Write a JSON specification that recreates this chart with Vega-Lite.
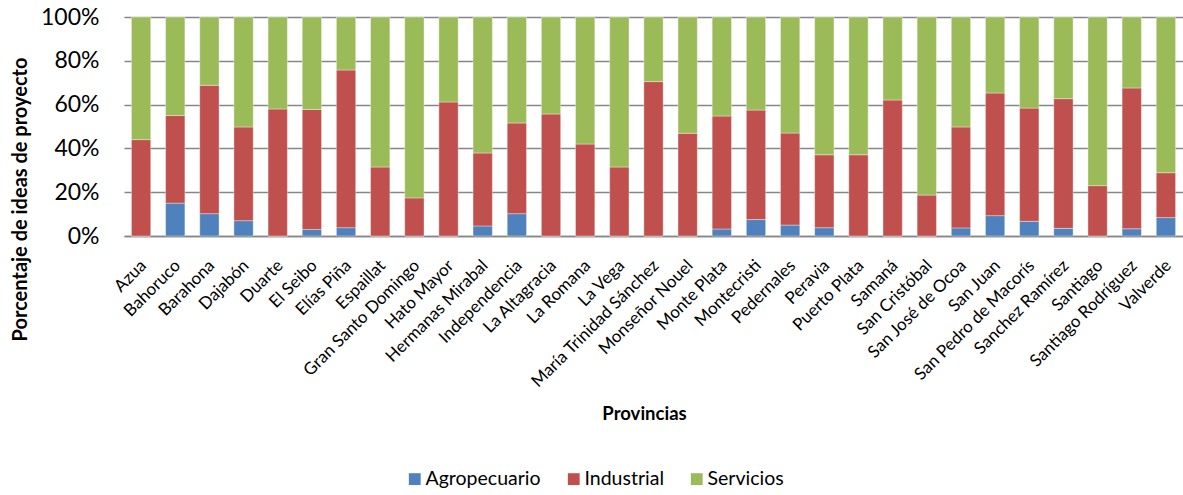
{
  "$schema": "https://vega.github.io/schema/vega-lite/v6.json",
  "width": 1059,
  "height": 219,
  "autosize": {"type": "none"},
  "padding": {"left": 124, "top": 17, "right": 0, "bottom": 259},
  "background": "white",
  "config": {"font": "Lato", "view": {"stroke": null}},
  "data": {"values": [
    {"p": "Azua", "s": "Agropecuario", "v": 0}, {"p": "Azua", "s": "Industrial", "v": 44}, {"p": "Azua", "s": "Servicios", "v": 56},
    {"p": "Bahoruco", "s": "Agropecuario", "v": 15}, {"p": "Bahoruco", "s": "Industrial", "v": 40}, {"p": "Bahoruco", "s": "Servicios", "v": 45},
    {"p": "Barahona", "s": "Agropecuario", "v": 10.2}, {"p": "Barahona", "s": "Industrial", "v": 58.6}, {"p": "Barahona", "s": "Servicios", "v": 31.2},
    {"p": "Dajabón", "s": "Agropecuario", "v": 7}, {"p": "Dajabón", "s": "Industrial", "v": 42.8}, {"p": "Dajabón", "s": "Servicios", "v": 50.2},
    {"p": "Duarte", "s": "Agropecuario", "v": 0}, {"p": "Duarte", "s": "Industrial", "v": 58}, {"p": "Duarte", "s": "Servicios", "v": 42},
    {"p": "El Seibo", "s": "Agropecuario", "v": 3}, {"p": "El Seibo", "s": "Industrial", "v": 54.8}, {"p": "El Seibo", "s": "Servicios", "v": 42.2},
    {"p": "Elías Piña", "s": "Agropecuario", "v": 3.8}, {"p": "Elías Piña", "s": "Industrial", "v": 72}, {"p": "Elías Piña", "s": "Servicios", "v": 24.2},
    {"p": "Espaillat", "s": "Agropecuario", "v": 0}, {"p": "Espaillat", "s": "Industrial", "v": 31.5}, {"p": "Espaillat", "s": "Servicios", "v": 68.5},
    {"p": "Gran Santo Domingo", "s": "Agropecuario", "v": 0}, {"p": "Gran Santo Domingo", "s": "Industrial", "v": 17.4}, {"p": "Gran Santo Domingo", "s": "Servicios", "v": 82.6},
    {"p": "Hato Mayor", "s": "Agropecuario", "v": 0}, {"p": "Hato Mayor", "s": "Industrial", "v": 61.2}, {"p": "Hato Mayor", "s": "Servicios", "v": 38.8},
    {"p": "Hermanas Mirabal", "s": "Agropecuario", "v": 4.6}, {"p": "Hermanas Mirabal", "s": "Industrial", "v": 33.3}, {"p": "Hermanas Mirabal", "s": "Servicios", "v": 62.1},
    {"p": "Independencia", "s": "Agropecuario", "v": 10.2}, {"p": "Independencia", "s": "Industrial", "v": 41.4}, {"p": "Independencia", "s": "Servicios", "v": 48.4},
    {"p": "La Altagracia", "s": "Agropecuario", "v": 0}, {"p": "La Altagracia", "s": "Industrial", "v": 55.7}, {"p": "La Altagracia", "s": "Servicios", "v": 44.3},
    {"p": "La Romana", "s": "Agropecuario", "v": 0}, {"p": "La Romana", "s": "Industrial", "v": 42}, {"p": "La Romana", "s": "Servicios", "v": 58},
    {"p": "La Vega", "s": "Agropecuario", "v": 0}, {"p": "La Vega", "s": "Industrial", "v": 31.5}, {"p": "La Vega", "s": "Servicios", "v": 68.5},
    {"p": "María Trinidad Sánchez", "s": "Agropecuario", "v": 0}, {"p": "María Trinidad Sánchez", "s": "Industrial", "v": 70.5}, {"p": "María Trinidad Sánchez", "s": "Servicios", "v": 29.5},
    {"p": "Monseñor Nouel", "s": "Agropecuario", "v": 0}, {"p": "Monseñor Nouel", "s": "Industrial", "v": 46.9}, {"p": "Monseñor Nouel", "s": "Servicios", "v": 53.1},
    {"p": "Monte Plata", "s": "Agropecuario", "v": 3.2}, {"p": "Monte Plata", "s": "Industrial", "v": 51.6}, {"p": "Monte Plata", "s": "Servicios", "v": 45.2},
    {"p": "Montecristi", "s": "Agropecuario", "v": 7.5}, {"p": "Montecristi", "s": "Industrial", "v": 50}, {"p": "Montecristi", "s": "Servicios", "v": 42.5},
    {"p": "Pedernales", "s": "Agropecuario", "v": 5}, {"p": "Pedernales", "s": "Industrial", "v": 42}, {"p": "Pedernales", "s": "Servicios", "v": 53},
    {"p": "Peravia", "s": "Agropecuario", "v": 3.8}, {"p": "Peravia", "s": "Industrial", "v": 33.3}, {"p": "Peravia", "s": "Servicios", "v": 62.9},
    {"p": "Puerto Plata", "s": "Agropecuario", "v": 0}, {"p": "Puerto Plata", "s": "Industrial", "v": 37.1}, {"p": "Puerto Plata", "s": "Servicios", "v": 62.9},
    {"p": "Samaná", "s": "Agropecuario", "v": 0}, {"p": "Samaná", "s": "Industrial", "v": 62.1}, {"p": "Samaná", "s": "Servicios", "v": 37.9},
    {"p": "San Cristóbal", "s": "Agropecuario", "v": 0}, {"p": "San Cristóbal", "s": "Industrial", "v": 18.7}, {"p": "San Cristóbal", "s": "Servicios", "v": 81.3},
    {"p": "San José de Ocoa", "s": "Agropecuario", "v": 3.7}, {"p": "San José de Ocoa", "s": "Industrial", "v": 46.1}, {"p": "San José de Ocoa", "s": "Servicios", "v": 50.2},
    {"p": "San Juan", "s": "Agropecuario", "v": 9.3}, {"p": "San Juan", "s": "Industrial", "v": 56}, {"p": "San Juan", "s": "Servicios", "v": 34.7},
    {"p": "San Pedro de Macorís", "s": "Agropecuario", "v": 6.7}, {"p": "San Pedro de Macorís", "s": "Industrial", "v": 51.7}, {"p": "San Pedro de Macorís", "s": "Servicios", "v": 41.6},
    {"p": "Sanchez Ramírez", "s": "Agropecuario", "v": 3.5}, {"p": "Sanchez Ramírez", "s": "Industrial", "v": 59.2}, {"p": "Sanchez Ramírez", "s": "Servicios", "v": 37.3},
    {"p": "Santiago", "s": "Agropecuario", "v": 0}, {"p": "Santiago", "s": "Industrial", "v": 23}, {"p": "Santiago", "s": "Servicios", "v": 77},
    {"p": "Santiago Rodríguez", "s": "Agropecuario", "v": 3.3}, {"p": "Santiago Rodríguez", "s": "Industrial", "v": 64.3}, {"p": "Santiago Rodríguez", "s": "Servicios", "v": 32.4},
    {"p": "Valverde", "s": "Agropecuario", "v": 8.4}, {"p": "Valverde", "s": "Industrial", "v": 20.5}, {"p": "Valverde", "s": "Servicios", "v": 71.1}
  ]},
  "mark": {"type": "bar", "stroke": "white", "strokeWidth": 0.6, "strokeOpacity": 0.6},
  "encoding": {
    "x": {
      "field": "p", "type": "nominal", "sort": null,
      "scale": {"paddingInner": 0.435, "paddingOuter": 0.2175},
      "axis": {
        "title": "Provincias", "titleFont": "Lato", "titleFontSize": 18.5, "titleFontWeight": "bold", "titleColor": "black",
        "titleX": 520, "titleY": 177, "titleBaseline": "middle", "titleAlign": "center",
        "labelAngle": -45, "labelAlign": "right", "labelBaseline": "top", "labelFontSize": 17, "labelColor": "black",
        "labelOffset": -3, "labelPadding": 21, "labelLimit": 300, "labelOverlap": false,
        "ticks": false, "domainColor": "#868686", "domainWidth": 1.5, "grid": false
      }
    },
    "y": {
      "field": "v", "type": "quantitative", "stack": "normalize",
      "scale": {"domain": [0, 1]},
      "axis": {
        "values": [0, 0.2, 0.4, 0.6, 0.8, 1], "format": ".0%",
        "title": "Porcentaje de ideas de proyecto", "titleFontSize": 20, "titleFontWeight": "bold", "titleColor": "black",
        "titleX": -98, "titleY": 182, "titleAngle": -90, "titleAlign": "center", "titleBaseline": "alphabetic",
        "labelFontSize": 23, "labelColor": "black", "labelPadding": 25,
        "ticks": false, "domain": false, "grid": true, "gridColor": "#868686", "gridWidth": 1.5, "gridOpacity": 1
      }
    },
    "color": {
      "field": "s", "type": "nominal",
      "scale": {"domain": ["Agropecuario", "Industrial", "Servicios"], "range": ["#4F81BD", "#C0504D", "#9BBB59"]},
      "legend": {
        "title": null, "orient": "none", "direction": "horizontal", "legendX": 281, "legendY": 452,
        "symbolType": "square", "symbolSize": 140, "symbolStrokeWidth": 0, "symbolOpacity": 1,
        "labelFontSize": 19.5, "labelColor": "black", "columnPadding": 23, "labelOffset": 1
      }
    },
    "order": {"field": "s", "sort": "ascending"}
  }
}
